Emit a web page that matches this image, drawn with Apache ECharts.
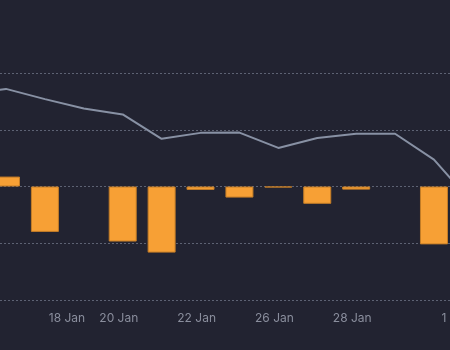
<!DOCTYPE html>
<html>
<head>
<meta charset="utf-8">
<script src="https://cdn.jsdelivr.net/npm/echarts@6/dist/echarts.min.js"></script>
<style>
  html, body { margin: 0; padding: 0; background: #222331; }
  #chart { width: 450px; height: 350px; }
</style>
</head>
<body>
<div id="chart"></div>
<script>
// Trading sessions (weekends and holidays are skipped, so each session gets one slot)
const tradingDays = [
  '2015-01-14', '2015-01-15', '2015-01-16', '2015-01-19', '2015-01-20', '2015-01-21',
  '2015-01-22', '2015-01-23', '2015-01-26', '2015-01-27', '2015-01-28', '2015-01-29',
  '2015-01-30', '2015-02-02'
];
// Running level (line)
const levelValues = [32.2, 34.4, 30.8, 27.5, 25.4, 16.8, 18.9, 19.0, 13.6, 17.1, 18.6, 18.6, 9.5, -6.0];
// Daily change (bars); sessions with no change have no bar
const changeValues = [null, 3.5, -16.0, null, -19.4, -23.3, -1.2, -3.9, -0.35, -6.1, -1.1, null, -20.4, null];
// Calendar dates shown on the time axis
const tickDates = ['2015-01-18', '2015-01-20', '2015-01-22', '2015-01-26', '2015-01-28', '2015-02-01'];
const monthNames = ['Jan', 'Feb', 'Mar', 'Apr', 'May', 'Jun', 'Jul', 'Aug', 'Sep', 'Oct', 'Nov', 'Dec'];

const DAY = 86400000;
const sessionTime = tradingDays.map(d => Date.parse(d + 'T00:00:00Z'));
// Sessions are stamped a little after midnight, so midnight labels sit slightly before them
const sessionOffset = 0.1;

// Ordinal position of a calendar date: interpolate between neighbouring sessions
function ordinalOf(dateStr) {
  const t = Date.parse(dateStr + 'T00:00:00Z');
  for (let i = 0; i < sessionTime.length - 1; i++) {
    if (t >= sessionTime[i] && t <= sessionTime[i + 1]) {
      return i + (t - sessionTime[i]) / (sessionTime[i + 1] - sessionTime[i]) - sessionOffset;
    }
  }
  return (t - sessionTime[0]) / DAY - sessionOffset;
}
const tickPositions = tickDates.map(ordinalOf);
const tickText = {};
tickDates.forEach((d, i) => {
  const dt = new Date(d + 'T00:00:00Z');
  tickText[tickPositions[i].toFixed(4)] = dt.getUTCDate() + ' ' + monthNames[dt.getUTCMonth()];
});

const lineData = levelValues.map((v, i) => [i, v]);
const barData = changeValues.map((v, i) => [i, v]);

const chart = echarts.init(document.getElementById('chart'), null, { renderer: 'canvas' });
chart.setOption({
  backgroundColor: '#222331',
  animation: false,
  // the plot runs past the right edge of the canvas; the view is a window onto it
  grid: { left: 0, width: 490, top: 73, height: 227, outerBoundsMode: 'none', containLabel: false },
  xAxis: {
    type: 'value',
    min: 0.846,
    max: 13.44,
    axisLine: { show: false },
    axisTick: { show: false },
    splitLine: { show: false },
    axisLabel: {
      customValues: tickPositions,
      formatter: v => tickText[Number(v).toFixed(4)] || '',
      color: '#8a8e9d',
      fontSize: 12,
      fontFamily: 'Inter, "Noto Sans", sans-serif',
      margin: 12
    }
  },
  yAxis: {
    type: 'value',
    min: -40,
    max: 40,
    interval: 20,
    axisLine: { show: false },
    axisTick: { show: false },
    axisLabel: { show: false },
    splitLine: { lineStyle: { color: '#5d6273', type: [2, 2], width: 1 } }
  },
  series: [
    {
      type: 'bar',
      data: barData,
      barWidth: 28,
      clip: true,
      itemStyle: { color: '#f7a035', borderColor: '#c47d27', borderWidth: 1 }
    },
    {
      type: 'line',
      data: lineData,
      showSymbol: false,
      clip: true,
      lineStyle: { color: '#8891a4', width: 2 }
    }
  ]
});
</script>
</body>
</html>
